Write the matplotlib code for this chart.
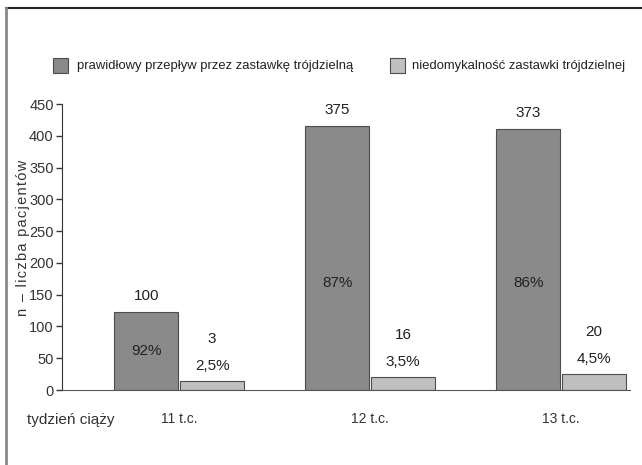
import numpy as np
import matplotlib.pyplot as plt
from matplotlib.lines import Line2D
from matplotlib.patches import Rectangle

plt.rcParams['font.family'] = ['Liberation Sans', 'DejaVu Sans']

# data
weeks = ['11 t.c.', '12 t.c.', '13 t.c.']
normal_height = [122, 415, 410]      # drawn bar heights
regurg_height = [14, 20, 25]
normal_n = ['100', '375', '373']     # printed counts
regurg_n = ['3', '16', '20']
normal_pct = ['92%', '87%', '86%']
regurg_pct = ['2,5%', '3,5%', '4,5%']
yticks = [0, 50, 100, 150, 200, 250, 300, 350, 400, 450]

dark = '#8a8a8a'
light = '#c0c0c0'
edge = '#4d4d4d'
txt = '#222222'

fig = plt.figure(figsize=(6.42, 4.65), dpi=100)
ax = fig.add_axes([62 / 642, 1 - 390 / 465, (630 - 62) / 642, (390 - 104) / 465])

x = np.arange(len(weeks))
w = 0.335
ax.bar(x - w / 2 - 0.005, normal_height, w, color=dark, edgecolor=edge, linewidth=0.8)
ax.bar(x + w / 2 + 0.005, regurg_height, w, color=light, edgecolor=edge, linewidth=0.8)

for i in range(len(weeks)):
    xd = x[i] - w / 2 - 0.005
    xl = x[i] + w / 2 + 0.005
    ax.annotate(normal_n[i], (xd, normal_height[i]), xytext=(0, 16), textcoords='offset pixels',
                ha='center', va='center', fontsize=11, color=txt)
    ax.text(xd, min(normal_height[i] / 2, 169), normal_pct[i], ha='center', va='center',
            fontsize=11, color=txt)
    ax.annotate(regurg_n[i], (xl, regurg_height[i]), xytext=(0, 42), textcoords='offset pixels',
                ha='center', va='center', fontsize=11, color=txt)
    ax.annotate(regurg_pct[i], (xl, regurg_height[i]), xytext=(0, 15), textcoords='offset pixels',
                ha='center', va='center', fontsize=11, color=txt)

ax.set_xlim(-0.613, 2.36)
ax.set_ylim(0, 450)
ax.set_yticks(yticks)
ax.set_xticks(x)
ax.set_xticklabels(weeks)
ax.tick_params(axis='y', direction='out', length=4, width=1, labelsize=10.5, colors='#333333', pad=2)
ax.tick_params(axis='x', length=0, labelsize=10, colors='#333333', pad=16)
for s in ['top', 'right']:
    ax.spines[s].set_visible(False)
ax.spines['left'].set_color('#333333')
ax.spines['bottom'].set_color('#555555')

fig.text(23 / 642, 1 - 238 / 465, '\u200a'.join('n – liczba pacjentów'), rotation=90,
         fontsize=10.5, color='#333333', ha='center', va='center')
fig.text(27 / 642, 1 - 420 / 465, 'tydzień ciąży', fontsize=11, color='#333333', va='center')

# legend drawn by hand like the original
fig.add_artist(Rectangle((53 / 642, 1 - 73 / 465), 15 / 642, 15 / 465, facecolor=dark,
                         edgecolor=edge, linewidth=0.8))
fig.text(77 / 642, 1 - 66 / 465, 'prawidłowy przepływ przez zastawkę trójdzielną',
         fontsize=9.4, color=txt, va='center')
fig.add_artist(Rectangle((390 / 642, 1 - 73 / 465), 15 / 642, 15 / 465, facecolor=light,
                         edgecolor=edge, linewidth=0.8))
fig.text(412 / 642, 1 - 66 / 465, 'niedomykalność zastawki trójdzielnej',
         fontsize=9.4, color=txt, va='center')

# page frame
fig.add_artist(Line2D([6 / 642, 1], [1 - 8 / 465, 1 - 8 / 465], color='#222222', linewidth=1.5))
fig.add_artist(Line2D([6 / 642, 6 / 642], [0, 1 - 8 / 465], color='#888888', linewidth=2))

fig.savefig('out.png', dpi=100)
